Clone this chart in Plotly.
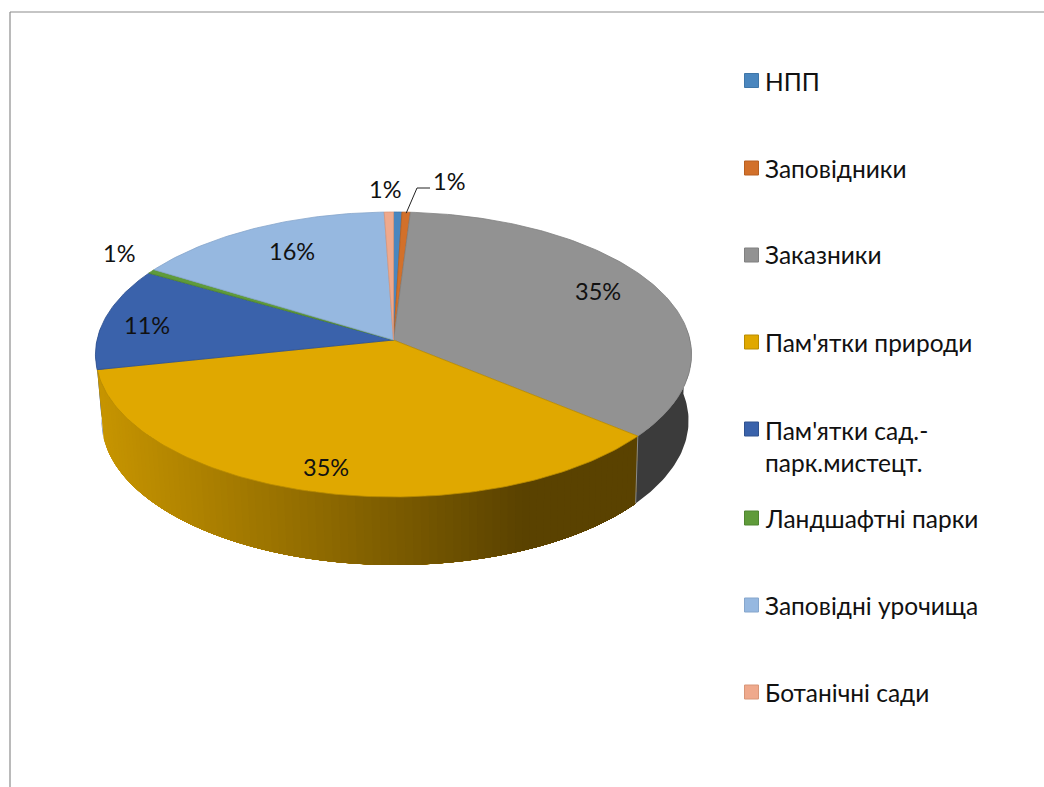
import math
import plotly.graph_objects as go

categories = ["НПП", "Заповідники", "Заказники", "Пам'ятки природи",
              "Пам'ятки сад.-<br>парк.мистецт.", "Ландшафтні парки",
              "Заповідні урочища", "Ботанічні сади"]
values = [0.5, 0.5, 35.0, 35.7, 11.6, 0.5, 15.65, 0.55]
pct_labels = ["1%", "1%", "35%", "35%", "11%", "1%", "16%", "1%"]
colors = ["#4A86BE", "#D2702A", "#929292", "#E0A800", "#3A62AB", "#5F9B3A", "#96B8E0", "#EFA98C"]
edge_colors = ["#3F76A8", "#B85F20", "#808080", "#B98C00", "#30528F", "#4F8530", "#86A6CC", "#D89678"]

# pie geometry (pixel-space axes)
CX, CY, RX = 393.5, 340, 296.5
A, B = 141.0, 0.1018
FONT = "Lato, 'Noto Sans', sans-serif"

label_slices = [7, 1, 2, 3, 4, 5, 6]
label_pos = [(385, 189), (449, 181), (598, 291), (326, 467), (147, 325), (119, 253), (292, 251)]
legend_y = [80.5, 168, 255, 342, 429, 518, 605, 692]
legend_text_y = [81, 168, 254, 342, 446, 518, 605, 692]


def rim(deg, depth=False):
    t = math.radians(deg)
    X, Y = math.sin(t), math.cos(t)
    k = 1 + B * Y
    x = RX * X / k
    y = -A * Y / k
    if depth:
        x = x * 0.985 + 1.5
        y += 66 - 2 * Y
    return CX + x, CY + y


fig = go.Figure()


def poly(pts, fill, line, width=0.8):
    fig.add_trace(go.Scatter(x=[p[0] for p in pts] + [pts[0][0]], y=[p[1] for p in pts] + [pts[0][1]],
                             mode="lines", fill="toself", fillcolor=fill,
                             line=dict(color=line, width=width), hoverinfo="skip",
                             showlegend=False))


# slice boundaries, clockwise from 12 o'clock
total = sum(values)
bounds = [0.0]
for v in values:
    bounds.append(bounds[-1] + v / total * 360)


def lerp(a, b, f):
    return int(round(a + (b - a) * f))


def band(a0, a1):
    n = max(2, int(abs(a1 - a0)))
    ds = [a0 + (a1 - a0) * j / n for j in range(n + 1)]
    return [rim(d) for d in ds] + [rim(d, True) for d in reversed(ds)]


def gold_color(deg):
    f = min(1, max(0, (rim(deg)[0] - 100) / 420))
    return "rgb(%d,%d,%d)" % (lerp(198, 90, f), lerp(148, 66, f), 0)


# side wall: grey and blue parts are flat, the gold part is a gradient painted
# as overlapping bands that each run on to the slice's far end
W0, W1 = 85, 275
poly(band(max(bounds[4], W0), min(bounds[5], W1)), "#2F5190", "#2F5190", 0)
poly(band(max(bounds[2], W0), min(bounds[3], W1)), "#3B3B3B", "#3B3B3B", 0)
a0, a1 = bounds[3], bounds[4]
GOLD_STEPS = 90
for j in range(GOLD_STEPS):
    d = a1 + (a0 - a1) * j / GOLD_STEPS
    poly(band(a0, d), gold_color(d), "rgba(0,0,0,0)", 0)
fig.add_trace(go.Scatter(x=[rim(a0)[0], rim(a0, True)[0]], y=[rim(a0)[1], rim(a0, True)[1]],
                         mode="lines", line=dict(color="#8A8A8A", width=1), hoverinfo="skip",
                         showlegend=False))

# top face
for i in range(len(values)):
    a0, a1 = bounds[i], bounds[i + 1]
    n = max(2, int((a1 - a0) / 1.0))
    pts = [(CX, CY)] + [rim(a0 + (a1 - a0) * j / n) for j in range(n + 1)]
    poly(pts, colors[i], edge_colors[i])

# leader line for the "Заповідники" label
mid = rim((bounds[1] + bounds[2]) / 2)
fig.add_trace(go.Scatter(x=[mid[0], 417, 430], y=[mid[1] + 1, 188, 188], mode="lines",
                         line=dict(color="#222222", width=1), hoverinfo="skip", showlegend=False))

annotations = []
for s, (x, y) in zip(label_slices, label_pos):
    annotations.append(dict(x=x, y=y, text=pct_labels[s], showarrow=False, xref="x", yref="y",
                            font=dict(size=23.5, color="#111111", family=FONT)))

# legend
fig.add_trace(go.Scatter(x=[751.5] * len(categories), y=legend_y, mode="markers",
                         marker=dict(symbol="square", size=14, color=colors,
                                     line=dict(color=edge_colors, width=1)),
                         hoverinfo="skip", showlegend=False))
for c, y in zip(categories, legend_text_y):
    annotations.append(dict(x=763, y=y, text=c, showarrow=False, xref="x", yref="y", xanchor="left",
                            align="left", font=dict(size=24.5, color="#111111", family=FONT)))

fig.update_layout(
    width=1044, height=787, margin=dict(l=0, r=0, t=0, b=0),
    paper_bgcolor="white", plot_bgcolor="white", showlegend=False,
    xaxis=dict(range=[0, 1044], visible=False, fixedrange=True),
    yaxis=dict(range=[787, 0], visible=False, fixedrange=True),
    annotations=annotations,
    shapes=[
        dict(type="line", xref="x", yref="y", x0=10, y0=12, x1=1044, y1=12,
             line=dict(color="#8C8C8C", width=1.2)),
        dict(type="line", xref="x", yref="y", x0=10, y0=12, x1=10, y1=787,
             line=dict(color="#8C8C8C", width=1.2)),
    ],
)
fig.write_html("out.html", config={"displayModeBar": False},
               post_script="document.body.style.margin='0';document.documentElement.style.overflow='hidden';")
